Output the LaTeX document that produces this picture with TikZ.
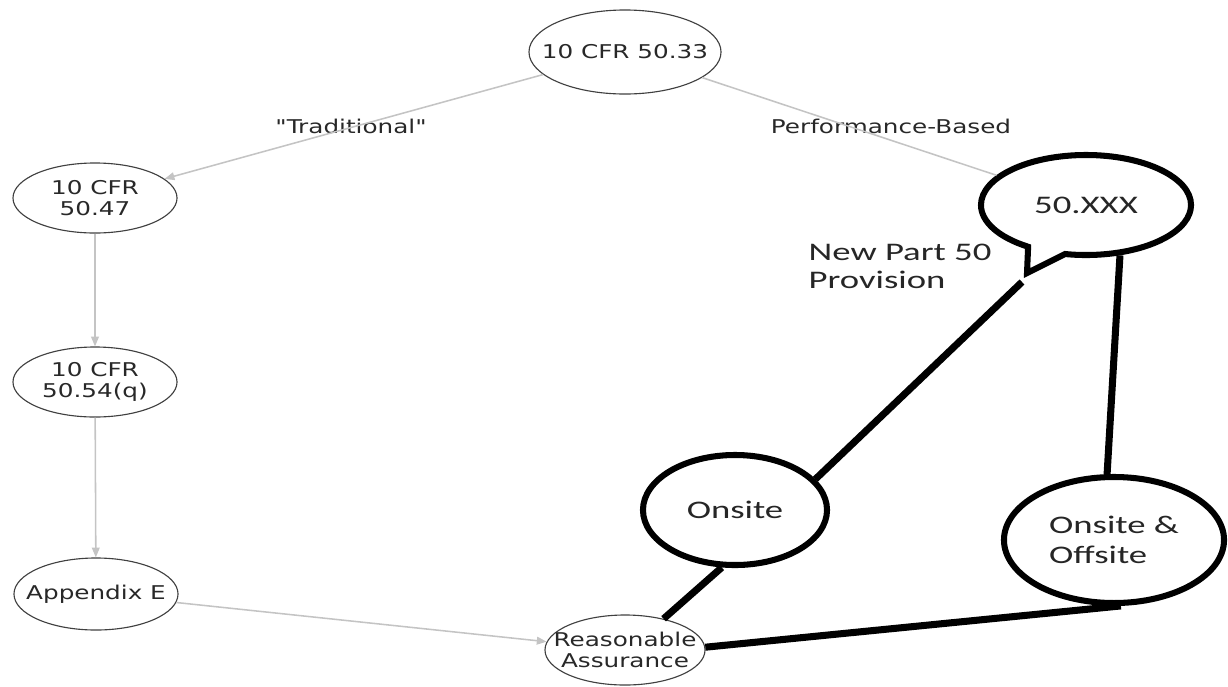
\documentclass[tikz,border=0pt]{standalone}
\usepackage{fontspec}
\usetikzlibrary{shapes.geometric,shapes.callouts,arrows.meta}

\newfontfamily\grafont[FakeStretch=1.3]{DejaVu Sans}
\newfontfamily\handfont[FakeStretch=1.45]{Carlito}
\definecolor{edgegray}{RGB}{196,196,196}
\definecolor{txtgray}{RGB}{40,40,40}

\tikzset{
  grnode/.style={ellipse, draw=black!75, line width=0.8pt, fill=white, inner sep=0pt},
  grtext/.style={align=center, inner sep=0pt, text=txtgray, font=\grafont\fontsize{13.5}{14.5}\selectfont},
  handnode/.style={ellipse, draw=black, line width=4.3pt, fill=white, inner sep=0pt,
    align=left, text=black!85, font=\handfont\fontsize{18}{21}\selectfont},
  gredge/.style={draw=edgegray, line width=1.1pt, -{Triangle[length=7pt,width=5.5pt]}},
  handedge/.style={draw=black, line width=5pt},
  grlabel/.style={text=txtgray, font=\grafont\fontsize{13.5}{14.5}\selectfont}
}

\begin{document}
\begin{tikzpicture}[x=0.025cm,y=-0.025cm]
  \useasboundingbox (0,0) rectangle (1228,686);

  % Traditional path
  \node[grnode, minimum width=4.8cm, minimum height=2.1cm,
    label={[grtext]center:10 CFR 50.33}] (cfr33) at (625,52) {};
  \node[grnode, minimum width=4.1cm, minimum height=1.75cm,
    label={[grtext]center:10 CFR\\50.47}] (cfr47) at (95,198) {};
  \node[grnode, minimum width=4.1cm, minimum height=1.75cm,
    label={[grtext]center:10 CFR\\50.54(q)}] (cfr54) at (95,382) {};
  \node[grnode, minimum width=4.1cm, minimum height=1.8cm,
    label={[grtext]center:Appendix E}] (appE) at (96,594) {};
  \node[grnode, minimum width=4.0cm, minimum height=1.75cm,
    label={[grtext]center:Reasonable\\Assurance}] (ra) at (625,650) {};

  % Performance-based path
  \node[handnode, ellipse callout, callout absolute pointer={(1027,273)}, callout pointer arc=22,
    minimum width=5.25cm, minimum height=2.5cm] (xxx) at (1086,205) {50.XXX};
  \node[handnode, minimum width=4.6cm, minimum height=2.75cm] (onsite) at (735,510) {Onsite};
  \node[handnode, minimum width=5.5cm, minimum height=3.15cm] (both) at (1114,540) {Onsite \&\\Offsite};
  \node[align=left, text=black!85, font=\handfont\fontsize{18}{20}\selectfont] (newpart) at (900,266)
    {New Part 50\\Provision};
  \coordinate (tailend) at (1022,282);

  \node[grlabel] (trad) at (351,126) {"Traditional"};
  \node[grlabel] (perf) at (891,126) {Performance-Based};

  \draw[gredge] (cfr33) -- (cfr47);
  \draw[draw=edgegray, line width=1.1pt] (cfr33) -- (xxx);
  \draw[gredge] (cfr47) -- (cfr54);
  \draw[gredge] (cfr54) -- (appE);
  \draw[gredge] (appE) -- (ra);

  \draw[handedge] (tailend) -- (onsite.21);
  \draw[handedge] (xxx.-56) -- (both.96);
  \draw[handedge] (onsite.-103) -- (ra.39);
  \draw[handedge] (both.-84) -- (ra.2);
\end{tikzpicture}
\end{document}
